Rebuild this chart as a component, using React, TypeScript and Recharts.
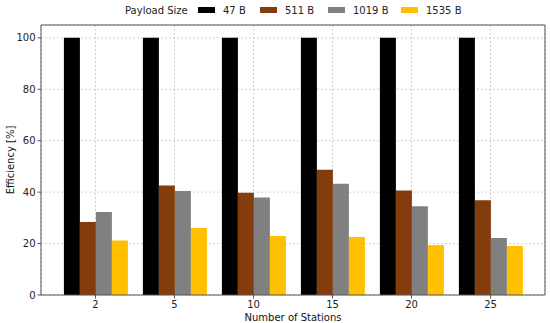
import { BarChart, Bar, XAxis, YAxis, CartesianGrid } from 'recharts';

const stations = ['2', '5', '10', '15', '20', '25'];
const eff47 = [100, 100, 100, 100, 100, 100];
const eff511 = [28.4, 42.6, 39.8, 48.7, 40.6, 36.8];
const eff1019 = [32.3, 40.4, 37.9, 43.3, 34.5, 22.2];
const eff1535 = [21.2, 26.1, 22.9, 22.6, 19.4, 19.1];
const yTicks = [0, 20, 40, 60, 80, 100];

const SERIES = [
  { key: 'b47', name: '47 B', color: '#000000' },
  { key: 'b511', name: '511 B', color: '#843c0c' },
  { key: 'b1019', name: '1019 B', color: '#808080' },
  { key: 'b1535', name: '1535 B', color: '#ffc000' },
];

const data = stations.map((s, i) => ({
  s,
  b47: eff47[i],
  b511: eff511[i],
  b1019: eff1019[i],
  b1535: eff1535[i],
}));

const FONT = 'DejaVu Sans, sans-serif';
const AXIS = '#555555';

export default function App() {
  return (
    <div style={{ position: 'absolute', left: 0, top: 0, width: 550, height: 323, background: '#fff', fontFamily: FONT }}>
      {/* legend on top, drawn outside the plot */}
      <div style={{ position: 'absolute', top: 2, left: 0, width: 550, height: 16, display: 'flex', alignItems: 'center', fontSize: 10, color: '#222' }}>
        <span style={{ position: 'absolute', left: 125 }}>Payload Size</span>
        {SERIES.map((s, i) => {
          const lefts = [198, 260, 328, 401];
          return (
            <span key={s.key} style={{ position: 'absolute', left: lefts[i], display: 'flex', alignItems: 'center' }}>
              <span style={{ display: 'inline-block', width: 17, height: 6, background: s.color, marginRight: 8 }} />
              {s.name}
            </span>
          );
        })}
      </div>
      <BarChart
        width={550}
        height={323}
        data={data}
        margin={{ top: 24, right: 4, left: 11, bottom: 0 }}
        barGap={0}
        barCategoryGap="10%"
      >
        <CartesianGrid stroke="#d0d0d0" strokeDasharray="2 2" />
        <XAxis
          dataKey="s"
          height={28}
          padding={{ left: 15, right: 15 }}
          stroke={AXIS}
          tickSize={3.5}
          tick={{ fill: '#222', fontSize: 10, fontFamily: FONT }}
          label={{ value: 'Number of Stations', position: 'insideBottom', offset: 2, fill: '#111', fontSize: 10, fontFamily: FONT }}
        />
        <XAxis xAxisId="top" dataKey="s" orientation="top" height={1} tick={false} tickLine={false} stroke={AXIS} />
        <YAxis
          domain={[0, 105]}
          ticks={yTicks}
          width={30}
          stroke={AXIS}
          tickSize={3.5}
          tick={{ fill: '#222', fontSize: 10, fontFamily: FONT }}
          label={{ value: 'Efficiency [%]', angle: -90, position: 'insideLeft', offset: -1, fill: '#111', fontSize: 10, fontFamily: FONT, style: { textAnchor: 'middle' } }}
        />
        <YAxis yAxisId="right" orientation="right" width={1} tick={false} tickLine={false} stroke={AXIS} domain={[0, 105]} />
        {SERIES.map((s) => (
          <Bar key={s.key} dataKey={s.key} name={s.name} fill={s.color} isAnimationActive={false} />
        ))}
      </BarChart>
    </div>
  );
}
